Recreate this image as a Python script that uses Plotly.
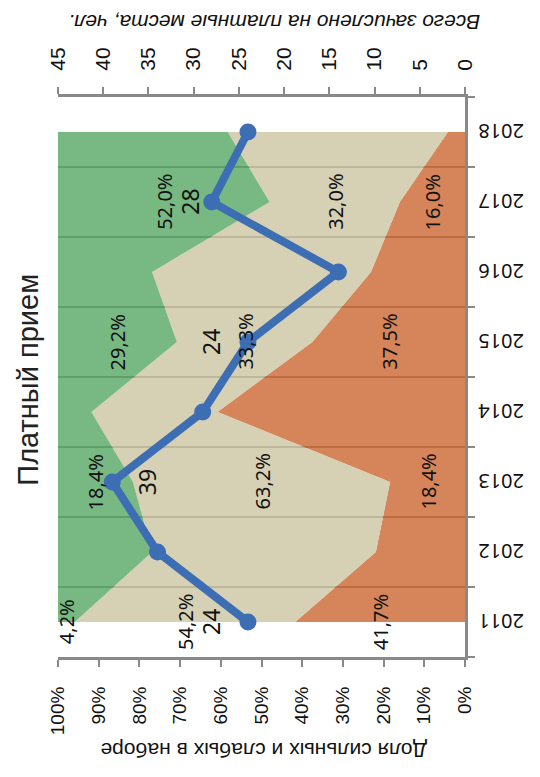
import plotly.graph_objects as go

years = ["2011", "2012", "2013", "2014", "2015", "2016", "2017", "2018"]
weak_pct = [41.7, 21.9, 18.4, 60.8, 37.5, 23.1, 16.0, 4.2]     # orange (bottom)
mid_pct = [54.2, 55.0, 63.2, 31.0, 33.3, 53.8, 32.0, 54.1]     # beige (middle)
strong_pct = [4.2, 23.1, 18.4, 8.2, 29.2, 23.1, 52.0, 41.7]    # green (top)
enrolled = [24, 34, 39, 29, 24, 14, 28, 24]                     # line, secondary axis

pct_ticks = list(range(0, 101, 10))
cnt_ticks = list(range(0, 46, 5))
labeled_idx = [0, 2, 4, 6]
cnt_label_shift = [-37, 35, -37, -22]

title_text = "Платный прием"
x_title = "Доля сильных и слабых в наборе"
x2_title = "Всего зачислено на платные места, чел."

C_ORANGE = "rgba(204,102,49,0.8)"
C_BEIGE = "rgba(204,196,161,0.8)"
C_GREEN = "rgba(86,166,100,0.8)"
C_LINE = "#3D6EB4"
AX = "#898989"

fig = go.Figure()
for vals, col, name in [(weak_pct, C_ORANGE, "weak"), (mid_pct, C_BEIGE, "mid"), (strong_pct, C_GREEN, "strong")]:
    fig.add_trace(go.Scatter(x=vals, y=years, orientation="h", stackgroup="one",
                             mode="none", fillcolor=col, name=name, hoverinfo="skip"))

fig.add_trace(go.Scatter(x=enrolled, y=years, xaxis="x2", mode="lines+markers",
                         line=dict(color=C_LINE, width=8),
                         marker=dict(color=C_LINE, size=17), name="count"))

def fmt(v):
    return f"{v:.1f}".replace(".", ",") + "%"

ann = []
for i in labeled_idx:
    o, b, g = weak_pct[i], mid_pct[i], strong_pct[i]
    for center, v in [(o / 2, o), (o + b / 2, b), (o + b + g / 2, g)]:
        ann.append(dict(x=center, y=i, xref="x", yref="y", text=fmt(v),
                        textangle=-90, showarrow=False, xanchor="center", yanchor="middle",
                        font=dict(family="Noto Sans", size=20, color="#111")))
for k, i in enumerate(labeled_idx):
    ann.append(dict(x=enrolled[i], y=i, xref="x2", yref="y", text=str(enrolled[i]),
                    textangle=-90, showarrow=False, xshift=cnt_label_shift[k],
                    xanchor="center", yanchor="middle",
                    font=dict(family="Noto Sans", size=23, color="#111")))
for i, yr in enumerate(years):
    ann.append(dict(x=1.0, y=i, xref="paper", yref="y", text=yr, xanchor="left",
                    yanchor="middle", xshift=11, textangle=180, showarrow=False,
                    font=dict(family="Noto Sans", size=20, color="#111")))

ann.append(dict(x=-0.074, y=0.495, xref="paper", yref="paper", text=title_text,
                textangle=-90, showarrow=False, xanchor="center", yanchor="middle",
                font=dict(family="Liberation Sans", size=29, color="#222")))
ann.append(dict(x=0.506, y=-0.166, xref="paper", yref="paper", text=x_title,
                textangle=180, showarrow=False, xanchor="center", yanchor="middle",
                font=dict(family="Liberation Sans", size=21, color="#111")))
ann.append(dict(x=0.531, y=1.132, xref="paper", yref="paper", text="<i>" + x2_title + "</i>",
                textangle=180, showarrow=False, xanchor="center", yanchor="middle",
                font=dict(family="Liberation Sans", size=21, color="#111")))

fig.update_layout(
    width=532, height=769,
    margin=dict(l=50, r=75, t=89, b=120, autoexpand=False),
    paper_bgcolor="white", plot_bgcolor="white",
    showlegend=False,
    annotations=ann,
    xaxis=dict(range=[100, 0], tickvals=pct_ticks, ticktext=[f"{v}%" for v in pct_ticks],
               tickangle=-90, ticks="outside", ticklen=7, tickwidth=2, tickcolor=AX,
               showline=True, linecolor=AX, linewidth=3, showgrid=False, zeroline=False,
               automargin=False, ticklabelstandoff=12,
               tickfont=dict(family="Liberation Sans", size=19, color="#111")),
    xaxis2=dict(overlaying="x", side="top", range=[45, 0], tickvals=cnt_ticks,
                tickangle=-90, ticks="outside", ticklen=7, tickwidth=2, tickcolor=AX,
                showline=True, linecolor=AX, linewidth=3, showgrid=False, zeroline=False,
                automargin=False, ticklabelstandoff=12,
                tickfont=dict(family="Liberation Sans", size=21, color="#111")),
    yaxis=dict(type="category", categoryarray=years, range=[-0.5, 7.5], side="right",
               tickson="boundaries", ticks="outside", ticklen=7, tickwidth=2, tickcolor=AX,
               showgrid=True, gridcolor="#808080", gridwidth=2,
               showline=True, linecolor=AX, linewidth=3, zeroline=False,
               showticklabels=False, automargin=False),
)

fig.write_html("out.html")
